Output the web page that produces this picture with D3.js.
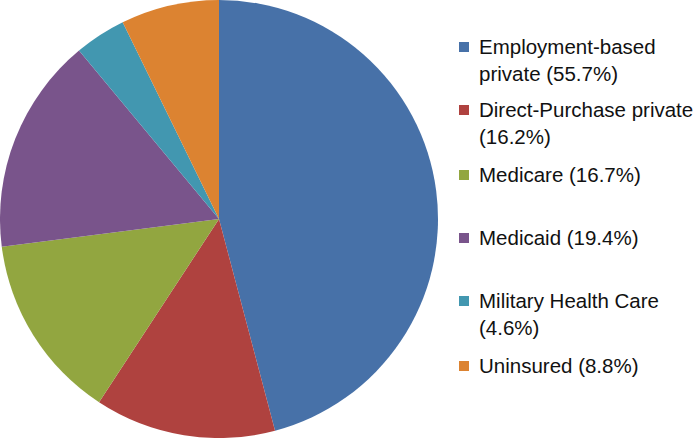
<!DOCTYPE html>
<html>
<head>
<meta charset="utf-8">
<script src="https://cdn.jsdelivr.net/npm/d3@7"></script>
<style>
  html, body { margin: 0; padding: 0; background: #fff; }
  svg { display: block; }
  text { font-family: "Liberation Sans", Arial, Helvetica, sans-serif; }
</style>
</head>
<body>
<svg id="chart" width="698" height="438"></svg>
<script>
const categories = ["Employment-based private", "Direct-Purchase private", "Medicare", "Medicaid", "Military Health Care", "Uninsured"];
const values = [55.7, 16.2, 16.7, 19.4, 4.6, 8.8];
const legendLines = [
  ["Employment-based", "private (55.7%)"],
  ["Direct-Purchase private", "(16.2%)"],
  ["Medicare (16.7%)"],
  ["Medicaid (19.4%)"],
  ["Military Health Care", "(4.6%)"],
  ["Uninsured (8.8%)"]
];
const colors = ["#4771A8", "#AF423F", "#92A640", "#79548B", "#4297B0", "#DC8331"];

const svg = d3.select("#chart");
const cx = 219, cy = 219, r = 219;

const data = categories.map((c, i) => ({ name: c, value: values[i], color: colors[i], lines: legendLines[i] }));

const pie = d3.pie().value(d => d.value).sort(null);
const arc = d3.arc().innerRadius(0).outerRadius(r);

svg.append("g")
  .attr("transform", `translate(${cx},${cy})`)
  .selectAll("path")
  .data(pie(data))
  .join("path")
  .attr("d", arc)
  .attr("fill", d => d.data.color);

// Legend
const legendCenters = [47, 110, 175, 238, 301, 366];
const lg = svg.append("g");
data.forEach((d, i) => {
  const y = legendCenters[i];
  const g = lg.append("g");
  g.append("rect")
    .attr("x", 459).attr("y", y - 5)
    .attr("width", 10).attr("height", 10)
    .attr("fill", d.color);
  d.lines.forEach((t, j) => {
    g.append("text")
      .attr("x", 479)
      .attr("y", y + j * 27)
      .attr("dy", "0.35em")
      .attr("font-size", 20.5)
      .attr("fill", "#111")
      .text(t);
  });
});
</script>
</body>
</html>
